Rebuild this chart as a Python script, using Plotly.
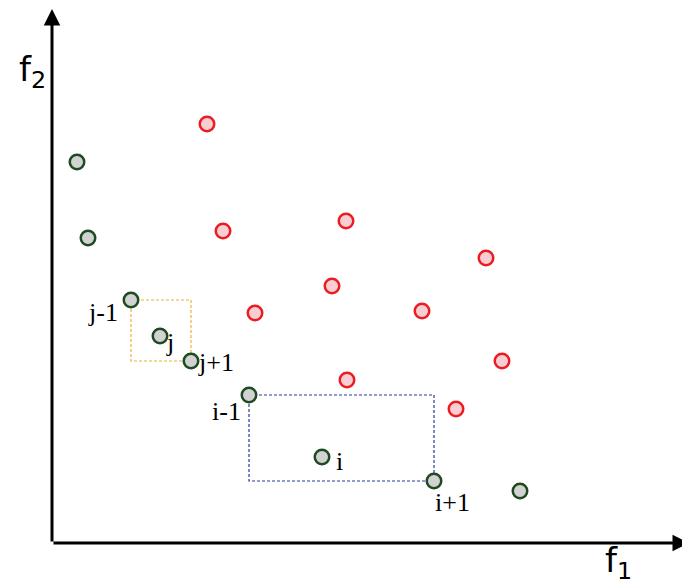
import plotly.graph_objects as go

# data coordinates: origin at the axes corner
green_x = [25, 36, 79, 108, 139, 197, 270, 382, 468]
green_y = [381, 305, 243, 207, 182, 148, 86, 62, 52]
red_x = [155, 171, 294, 280, 203, 370, 434, 450, 295, 404]
red_y = [419, 312, 322, 257, 230, 232, 285, 182, 163, 134]

labels = ["j-1", "j", "j+1", "i-1", "i", "i+1"]
label_idx = [2, 3, 4, 5, 6, 7]
label_anchor = ["right", "left", "left", "right", "left", "left"]
label_dx = [-11, 4, 5, -6, 12, -1]
label_dy = [-12, -6, -1, -16, -4, -21]

fig = go.Figure()

# dashed rectangles (j-1..j+1, i-1..i+1)
fig.add_shape(type="rect", x0=green_x[2], y0=green_y[2], x1=green_x[4], y1=green_y[4],
              line=dict(color="#f0b035", width=1.2, dash="3px,2px"), layer="below")
fig.add_shape(type="rect", x0=green_x[5], y0=green_y[5], x1=green_x[7], y1=green_y[7],
              line=dict(color="#2b3a9a", width=1.2, dash="3px,2px"), layer="below")

fig.add_trace(go.Scatter(x=red_x, y=red_y, mode="markers",
                         marker=dict(size=14.5, color="#f7cfd3",
                                     line=dict(color="#ec1c24", width=2.5))))
fig.add_trace(go.Scatter(x=green_x, y=green_y, mode="markers",
                         marker=dict(size=14.5, color="#d2d2d2",
                                     line=dict(color="#1e4a22", width=2.5))))

for t, i, a, dx, dy in zip(labels, label_idx, label_anchor, label_dx, label_dy):
    fig.add_annotation(x=green_x[i] + dx, y=green_y[i] + dy, text=t, showarrow=False,
                       xanchor=a, yanchor="middle",
                       font=dict(family="Liberation Serif", size=26, color="black"))

# axes arrows
fig.add_annotation(x=0, y=534, ax=0, ay=0, xref="x", yref="y", axref="x", ayref="y",
                   showarrow=True, arrowhead=2, arrowsize=1.1, arrowwidth=3, arrowcolor="black", text="")
fig.add_annotation(x=637, y=0, ax=0, ay=0, xref="x", yref="y", axref="x", ayref="y",
                   showarrow=True, arrowhead=2, arrowsize=1.1, arrowwidth=3, arrowcolor="black", text="")

fig.add_annotation(x=-20, y=472, text="f<sub>2</sub>", showarrow=False,
                   font=dict(family="DejaVu Sans", size=34, color="black"))
fig.add_annotation(x=566, y=-19, text="f<sub>1</sub>", showarrow=False,
                   font=dict(family="DejaVu Sans", size=34, color="black"))

fig.update_layout(width=682, height=580, margin=dict(l=0, r=0, t=0, b=0),
                  plot_bgcolor="white", paper_bgcolor="white", showlegend=False,
                  xaxis=dict(range=[-44, 638], visible=False, fixedrange=True),
                  yaxis=dict(range=[-45, 535], visible=False, fixedrange=True))

fig.write_html("out.html")
